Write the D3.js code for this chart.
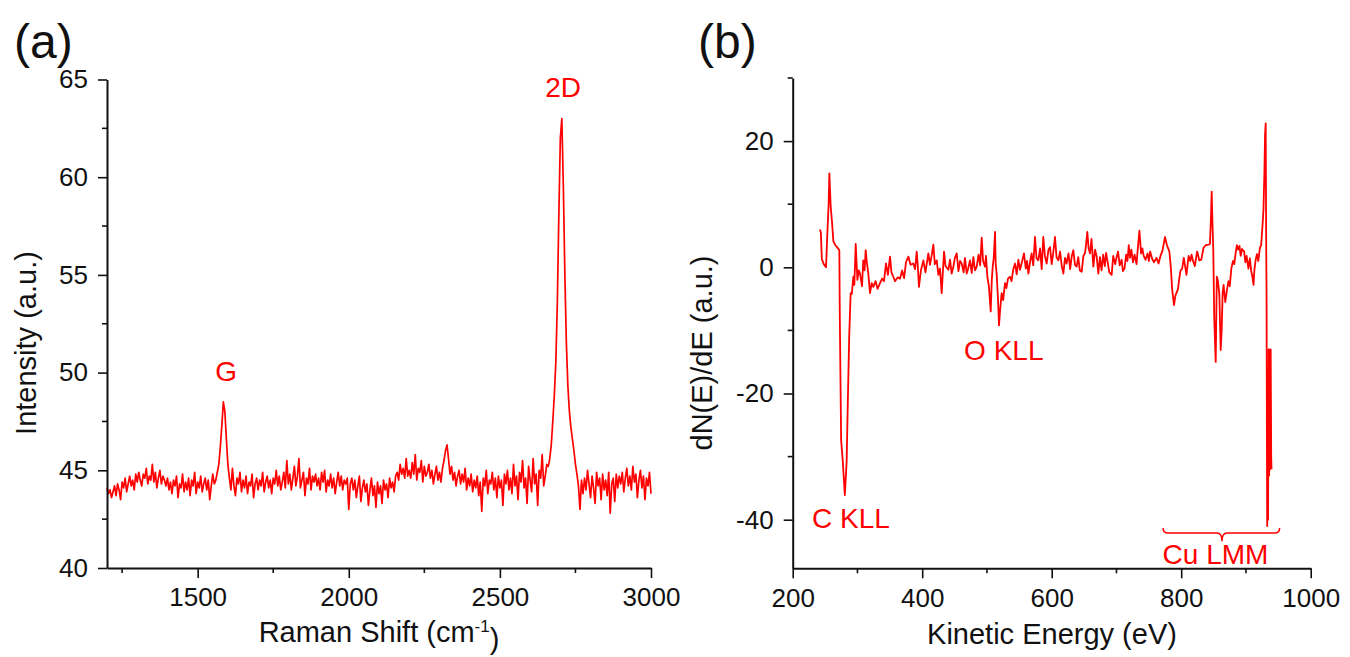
<!DOCTYPE html>
<html>
<head>
<meta charset="utf-8">
<script src="https://cdn.jsdelivr.net/npm/d3@7"></script>
<style>
  html, body { margin: 0; padding: 0; background: #fff; }
  svg { display: block; font-family: "Liberation Sans", Arial, sans-serif; }
</style>
</head>
<body>
<svg id="chart" width="1350" height="657"></svg>
<script>
// ---------------- DATA ----------------
// Panel (a): Raman spectrum, sampled every 5 cm^-1 from 1200 to 3000
const ramanStart = 1200;
const ramanStep = 5;
const ramanIntensity = [
  44.1, 43.8, 44.0, 43.6, 43.9, 44.2, 43.7, 44.3, 44.0, 43.5, 44.4, 44.1, 44.6, 43.9, 44.3, 44.7, 44.2, 44.5, 44.0, 44.8,
  44.4, 44.9, 44.5, 44.2, 44.8, 44.6, 45.1, 44.3, 44.7, 44.5, 45.3, 44.4, 44.9, 44.1, 44.6, 45.0, 44.3, 44.7, 44.5, 44.2,
  44.6, 44.0, 44.4, 43.8, 44.5, 44.2, 44.7, 43.6, 44.3, 44.1, 44.8, 43.9, 44.4, 44.0, 44.6, 43.7, 44.5, 44.2, 44.9, 43.8,
  44.4, 44.1, 44.7, 43.9, 44.3, 44.6, 44.0, 44.5, 43.5, 44.2, 44.8, 44.3, 44.5, 44.9, 45.3, 46.2, 47.3, 48.5, 48.0, 46.6,
  45.3, 44.6, 44.0, 45.1, 44.2, 43.7, 44.6, 44.3, 44.9, 43.9, 44.5, 44.1, 44.7, 43.8, 44.4, 44.2, 44.8, 43.6, 44.3, 44.6,
  44.0, 44.5, 44.2, 44.9, 43.9, 44.4, 44.7, 44.1, 44.5, 43.8, 44.6, 44.3, 45.0, 44.2, 44.7, 44.0, 44.4, 44.9, 44.1, 45.5,
  44.3, 44.8, 44.0, 44.6, 45.2, 44.2, 44.7, 45.6, 44.1, 44.5, 44.9, 43.7, 44.6, 44.3, 45.1, 44.0, 44.7, 44.4, 44.8, 44.2,
  44.6, 44.0, 44.9, 44.4, 45.0, 43.9, 44.5, 44.2, 44.8, 44.1, 44.6, 43.8, 44.4, 44.9, 44.2, 44.7, 44.0, 44.5, 44.3, 44.6,
  43.0, 44.3, 44.6, 44.0, 44.5, 43.6, 44.2, 44.7, 43.4, 44.1, 44.5, 43.9, 44.3, 43.2, 44.0, 44.6, 43.7, 44.2, 43.1, 44.4,
  43.8, 44.2, 43.3, 44.5, 44.0, 44.3, 43.6, 44.6, 44.1, 44.4, 43.9, 44.7, 44.9, 44.5, 45.3, 44.8, 45.1, 44.6, 45.6, 44.7,
  45.0, 44.6, 45.4, 44.8, 45.8, 44.5, 45.1, 44.9, 45.5, 44.4, 45.2, 44.7, 44.9, 45.3, 44.6, 45.0, 44.3, 44.8, 45.2, 44.5,
  44.9, 44.4, 45.1, 45.5, 46.0, 46.3, 45.6, 44.8, 45.2, 44.5, 44.9, 44.2, 44.7, 45.0, 44.3, 44.8, 44.4, 45.1, 44.0, 44.6,
  44.2, 44.8, 43.9, 44.5, 44.1, 44.7, 43.7, 44.4, 42.9, 44.6, 44.2, 45.0, 43.8, 44.5, 44.3, 44.9, 44.0, 44.6, 43.6, 44.7,
  44.1, 44.5, 43.2, 44.8, 44.3, 45.0, 44.0, 44.6, 43.8, 45.3, 44.2, 44.7, 43.5, 44.9, 44.4, 45.5, 44.1, 44.6, 43.3, 45.2,
  44.5, 43.9, 45.6, 44.3, 44.8, 43.2, 45.0, 44.6, 45.8, 44.2, 44.7, 45.3, 45.2, 45.6, 46.3, 47.5, 48.8, 50.5, 53.5, 58.0,
  62.0, 63.0, 59.5, 55.0, 51.5, 49.3, 48.0, 47.2, 46.6, 46.0, 45.3, 44.8, 44.2, 43.0, 44.5, 43.8, 44.6, 44.0, 45.0, 44.3,
  43.6, 44.7, 44.1, 43.3, 44.9, 44.2, 44.6, 43.5, 44.8, 44.0, 44.5, 43.7, 44.9, 42.8, 44.3, 44.6, 43.4, 44.8, 44.1, 44.7,
  44.3, 44.9, 43.9, 44.6, 45.1, 44.2, 44.7, 44.0, 45.2, 44.4, 44.8, 43.6, 44.5, 45.0, 44.1, 44.7, 43.5, 44.6, 44.2, 44.9, 43.8
];
const ramanXTicks = [1500, 2000, 2500, 3000];
const ramanXMinor = [1250, 1750, 2250, 2750];
const ramanYTicks = [40, 45, 50, 55, 60, 65];
const ramanYMinor = [42.5, 47.5, 52.5, 57.5, 62.5];
const ramanPeaks = [
  { label: "G", x: 1594, y: 50.1 },
  { label: "2D", x: 2709, y: 64.6 }
];

// Panel (b): Auger spectrum [kinetic energy (eV), dN(E)/dE]
const augerEnergy = [
  242, 243.5, 245, 248, 251.5, 253.5, 255.5, 256.6, 258.7, 260.5, 262.8, 266, 270, 272, 272.8, 274.8, 277.4, 280.5, 283.3, 285,
  287.3, 289.5, 291.3, 293.7, 295.2, 297.3, 299.9, 302, 304, 307, 309, 311, 312.7, 314.5, 316.8, 319.4, 322, 324.5, 328, 331,
  334.9, 338, 341, 344.1, 347, 350.3, 352.5, 355.4, 358, 362, 365.7, 369, 372, 375, 378.6, 382, 386.3, 389, 391.5, 393,
  395, 398, 401.8, 405, 409.5, 412, 414.5, 417.2, 419.5, 422.4, 425, 427.5, 430.1, 433.7, 436, 440.4, 443, 445.5, 448.1, 450.5,
  453.3, 456, 458.5, 461, 464, 466, 468.7, 471, 473.8, 476.5, 479, 481.5, 484.2, 487, 489.5, 491.9, 494, 497, 498.5, 500.6,
  503, 505.8, 507.5, 508.9, 510.5, 512.5, 513.5, 515, 517, 518.6, 520.5, 522.7, 525, 527.9, 530, 532.5, 535.6, 538, 540.5, 543.4,
  546, 548.5, 551, 554, 557.2, 560, 562, 564, 566.5, 569, 571.5, 574.2, 576.5, 579.4, 582, 584.5, 587, 589.5, 592.2, 595,
  597.4, 600, 602.5, 605.1, 607.5, 610.3, 613, 615.5, 618, 620.5, 623, 626, 628.5, 631, 633.4, 636, 638.6, 641, 643.5, 646.3,
  649, 651.5, 653.5, 655, 657, 659.2, 661.5, 664.3, 667, 669.5, 672, 674.5, 677, 679.5, 682, 684, 686, 689, 692.6, 695,
  698, 700, 702.5, 705, 708, 710, 712.4, 715, 717, 719, 721, 723, 725.6, 728, 731, 733, 735.5, 738, 740, 742.1,
  745, 748, 750, 752, 755, 758, 761.9, 765, 768, 771, 775, 778, 781.7, 784, 786, 788.9, 791, 794.9, 797, 799,
  801.5, 804, 806, 808.1, 811.4, 814, 816, 818, 821, 824.6, 826, 827.9, 831, 834.5, 838, 842, 844.4, 846, 847.1, 848,
  849.6, 851, 853.3, 855, 856.5, 858.9, 860, 861, 862.5, 864, 865.5, 868, 870.8, 873, 875, 877.4, 880, 882, 884, 886,
  888, 890, 891.9, 894, 897.2, 899, 901, 903.8, 906, 908, 910, 911.7, 913, 915, 917, 919, 921.6, 923.5, 925.5, 927,
  928.5, 929.5, 930.5, 931.2, 931.8, 932.3, 932.8, 933.5, 934.2, 935, 935.8, 936.6, 937.4, 938.2, 939, 939.5
];
const augerSignal = [
  6.0, 5.5, 1.3, 0.5, 0.0, 5.4, 10, 14.9, 9.6, 7.5, 4.1, 3.5, 3.0, 2.7, -8.2, -27.4, -30.8, -36.1, -30.8, -22,
  -10.8, -4.1, -4.2, -1.5, -2.8, 3.7, -2.0, -0.5, -1, -3, 1.1, -0.5, 2.7, 0.8, -1, -4.1, -2.5, -3.1, -2.2, -3.4,
  -2.5, -1.8, -2.2, 0.6, -1.2, 1.7, -0.8, -1.5, -2.2, -1.6, -1.8, -0.5, -1.7, 0.8, 1.7, 0.4, 0.6, -0.3, 2.5, 0.5,
  -3.1, -0.5, 1.1, -0.8, 2.2, 0.4, 1.8, 3.6, 0.5, 1.1, -1.2, -0.2, -4.1, 2.5, 0.2, -0.4, 1.2, -1.0, 0.1, 1.5,
  2.2, -0.6, 1.0, 0.6, -0.8, 1.5, -1, -0.2, 1.1, -0.9, 1.6, -0.5, 0.1, 2.0, 0.3, 4.7, 1.0, 0.1, 1.8, -1.5,
  -3.0, -7.0, -2.0, 0.1, 1.5, 5.6, 0.5, -1, -5, -9.2, -6.5, -4.1, -5.2, -2.5, -3.3, -1.8, -1.5, -2.2, -0.4, 0.6,
  -1.1, 1.2, -0.4, 0.8, 2.2, -0.2, 1.0, -1, 0.8, 2.2, 0.3, 4.8, 1.5, 1.1, 3.0, -0.3, 4.8, 1.8, 0.6, 2.8,
  3.2, 0.5, 2.4, 4.8, 1.6, 1.1, 2.5, 0.2, -1, 1.5, 0.6, 2.2, -0.3, 1.8, 2.7, 0.4, 0.1, 1.6, -0.5, -0.7,
  1.8, 2.3, 4.0, 5.6, 3.0, 2.2, 4.5, 0.1, 2.8, 1.7, -1, 1.6, -0.5, 2.0, 0.2, 2.3, 1.1, -0.8, -1.2, 1.8,
  0.5, 1.5, 2.5, 0.3, 1.2, -0.6, -0.2, 2.0, 1.0, 3.5, 1.5, 2.8, 0.8, 2.0, 0.5, 3.0, 5.8, 2.2, 3.0, 1.8,
  1.2, 2.2, 1.0, 2.5, 1.4, 0.8, 1.5, 0.6, 1.8, 2.6, 4.8, 3.5, 2.5, 0, -3.5, -6.0, -4.5, -3.5, -1.8, -0.5,
  -0.2, 1.5, 0.2, -1.2, 1.8, 1.0, 2.0, 1.1, 0.2, 2.5, 2.0, 1.1, 1.2, 3.1, 3.5, 3.6, 3.7, 8, 12.0, 8,
  2.5, -8, -15, -1.5, -2, -4.2, -9, -13.1, -10, -4, -2.8, -5.5, -3.5, -2.2, -3, -0.2, 1.0, 0.5, 2.2, 3.5,
  2.8, 3.4, 1.8, 2.9, 2.5, 0.8, 1.8, -0.2, 1.4, -0.5, -1.5, -2.8, -0.5, 1.2, 2.1, 1.0, 3.1, 3.5, 6.5, 9,
  15, 21, 22.8, 5, -4, -25, -41, -30, -40, -13, -33, -13, -32, -13, -30, -32
];
const augerXTicks = [200, 400, 600, 800, 1000];
const augerXMinor = [300, 500, 700, 900];
const augerYTicks = [-40, -20, 0, 20];
const augerYMinor = [-30, -10, 10, 30];
const augerLabels = [
  { label: "C KLL", x: 290, y: -39.7 },
  { label: "O KLL", x: 526, y: -13.1 },
  { label: "Cu LMM", x: 853, y: -45.5 }
];
const cuBraceSpan = [772, 952];
const cuBraceTip = 863;
const cuBraceLevels = [-41.3, -42.1, -43.4]; // ends, bar, tip

// ---------------- DRAW ----------------
const svg = d3.select("#chart");
const RED = "#ff0000";
const INK = "#111";
const fmt = d => String(d); // plain hyphen-minus like the original

function drawAxes(g, x, y, xt, xm, yt, ym) {
  const x0 = x.range()[0];
  const y0 = y.range()[0];
  g.append("g").selectAll("line").data(xm).join("line")
    .attr("x1", d => x(d)).attr("x2", d => x(d)).attr("y1", y0).attr("y2", y0 + 5)
    .attr("stroke", INK).attr("stroke-width", 1.6);
  g.append("g").selectAll("line").data(ym).join("line")
    .attr("y1", d => y(d)).attr("y2", d => y(d)).attr("x1", x0).attr("x2", x0 - 5)
    .attr("stroke", INK).attr("stroke-width", 1.6);

  const ax = g.append("g").attr("transform", `translate(0,${y0})`)
    .call(d3.axisBottom(x).tickValues(xt).tickSize(10).tickSizeOuter(0).tickPadding(10).tickFormat(fmt));
  const ay = g.append("g").attr("transform", `translate(${x0},0)`)
    .call(d3.axisLeft(y).tickValues(yt).tickSize(9).tickSizeOuter(0).tickPadding(10).tickFormat(fmt));
  [ax, ay].forEach(a => {
    a.select(".domain").attr("stroke", INK).attr("stroke-width", 2);
    a.selectAll(".tick line").attr("stroke", INK).attr("stroke-width", 1.6);
    a.selectAll(".tick text").attr("fill", INK).style("font-size", "26px")
      .style("font-family", "'Liberation Sans', Arial, sans-serif");
  });
}

// ----- Panel (a) -----
const xA = d3.scaleLinear().domain([1200, 3000]).range([107, 651]);
const yA = d3.scaleLinear().domain([40, 65]).range([568, 79.5]);
const gA = svg.append("g");

const lineA = d3.line()
  .x((d, i) => xA(ramanStart + i * ramanStep))
  .y(d => yA(d));
gA.append("path").datum(ramanIntensity)
  .attr("d", lineA).attr("fill", "none").attr("stroke", RED)
  .attr("stroke-width", 1.7).attr("stroke-linejoin", "round");

drawAxes(gA, xA, yA, ramanXTicks, ramanXMinor, ramanYTicks, ramanYMinor);

gA.selectAll("text.peak").data(ramanPeaks).join("text")
  .attr("class", "peak")
  .attr("x", d => xA(d.x)).attr("y", d => yA(d.y)).attr("dy", "0.36em")
  .attr("text-anchor", "middle").attr("fill", RED)
  .style("font-size", "28px").text(d => d.label);

gA.append("text").attr("x", 14).attr("y", 58).style("font-size", "48px").attr("fill", INK).text("(a)");

const tA = gA.append("text").attr("x", 379).attr("y", 642).attr("text-anchor", "middle")
  .attr("fill", INK).style("font-size", "29px");
tA.append("tspan").text("Raman Shift (cm");
tA.append("tspan").attr("dy", "-0.6em").style("font-size", "17px").text("-1");
tA.append("tspan").attr("dy", "0.6em").text(")");

gA.append("text").attr("transform", "translate(36,343) rotate(-90)")
  .attr("text-anchor", "middle").attr("fill", INK).style("font-size", "29px")
  .text("Intensity (a.u.)");

// ----- Panel (b) -----
const xB = d3.scaleLinear().domain([200, 1000]).range([792.7, 1310.7]);
const yB = d3.scaleLinear().domain([-47.7, 30]).range([568.3, 78]);
const gB = svg.append("g");

const augerData = augerEnergy.map((e, i) => [e, augerSignal[i]]);
const lineB = d3.line().x(d => xB(d[0])).y(d => yB(d[1]));
gB.append("path").datum(augerData)
  .attr("d", lineB).attr("fill", "none").attr("stroke", RED)
  .attr("stroke-width", 1.8).attr("stroke-linejoin", "round");

drawAxes(gB, xB, yB, augerXTicks, augerXMinor, augerYTicks, augerYMinor);

gB.selectAll("text.peak").data(augerLabels).join("text")
  .attr("class", "peak")
  .attr("x", d => xB(d.x)).attr("y", d => yB(d.y)).attr("dy", "0.36em")
  .attr("text-anchor", "middle").attr("fill", RED)
  .style("font-size", "28px").text(d => d.label);

// Cu LMM brace
{
  const bx1 = xB(cuBraceSpan[0]), bx2 = xB(cuBraceSpan[1]), bt = xB(cuBraceTip);
  const yEnd = yB(cuBraceLevels[0]), yBar = yB(cuBraceLevels[1]), yTip = yB(cuBraceLevels[2]);
  const c = 5;
  const p = d3.path();
  p.moveTo(bx1, yEnd);
  p.quadraticCurveTo(bx1, yBar, bx1 + c, yBar);
  p.lineTo(bt - c, yBar);
  p.quadraticCurveTo(bt, yBar, bt, yTip);
  p.quadraticCurveTo(bt, yBar, bt + c, yBar);
  p.lineTo(bx2 - c, yBar);
  p.quadraticCurveTo(bx2, yBar, bx2, yEnd);
  gB.append("path").attr("d", p.toString()).attr("fill", "none")
    .attr("stroke", RED).attr("stroke-width", 1.5);
}

gB.append("text").attr("x", 698).attr("y", 58).style("font-size", "48px").attr("fill", INK).text("(b)");

gB.append("text").attr("x", 1052).attr("y", 644).attr("text-anchor", "middle")
  .attr("fill", INK).style("font-size", "29px").text("Kinetic Energy (eV)");

gB.append("text").attr("transform", "translate(712,353) rotate(-90)")
  .attr("text-anchor", "middle").attr("fill", INK).style("font-size", "29px")
  .text("dN(E)/dE (a.u.)");
</script>
</body>
</html>
